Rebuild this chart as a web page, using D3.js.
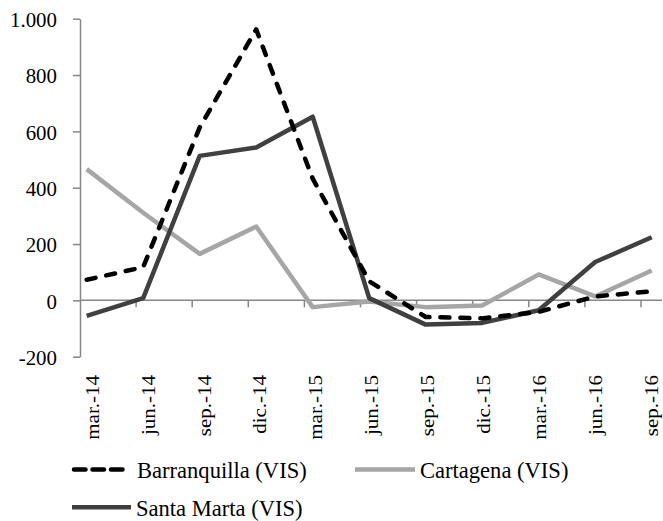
<!DOCTYPE html>
<meta charset="utf-8">
<style>
body{
    margin: 0;
    background: #fff;
}
svg text{
    font-family: "Liberation Serif", "Times New Roman", Times, serif !important;
    fill: #000;
}
.axis path, .axis line{
    stroke: #868686;
    stroke-width: 1.5;
}
.series{
    fill: none;
    stroke-width: 4.5;
    stroke-linejoin: round;
}
</style>
<svg width="663" height="521" font-family="Liberation Serif"></svg>
<script src="https://cdn.jsdelivr.net/npm/d3@7"></script>
<script>

var categories = ['mar.-14','jun.-14','sep.-14','dic.-14','mar.-15','jun.-15','sep.-15','dic.-15','mar.-16','jun.-16','sep.-16'];
var barranquilla = [73, 118, 614, 962, 432, 68, -59, -64, -41, 14, 32];
var cartagena    = [466, 311, 165, 262, -24, -4, -24, -18, 92, 14, 106];
var santaMarta   = [-55, 8, 513, 543, 652, 8, -86, -80, -35, 136, 224];
var yTicks = [-200, 0, 200, 400, 600, 800, 1000];

var series = [
    {name:'Barranquilla (VIS)', values: barranquilla, colour:'#000', dash:'9,11', cap:'round'},
    {name:'Cartagena (VIS)', values: cartagena, colour:'#a6a6a6', dash:null, cap:'butt'},
    {name:'Santa Marta (VIS)', values: santaMarta, colour:'#404040', dash:null, cap:'butt'}
];

var svg = d3.select('svg');

var x = d3.scalePoint()
    .domain(categories)
    .range([86.7, 651.7]);

// category separators sit a little left of the points
var tickX = d3.scaleLinear()
    .domain([0, categories.length - 1])
    .range([80, 641]);

var y = d3.scaleLinear()
    .domain([-200, 1000])
    .range([356.7, 18.7]);

var locale = d3.formatLocale({decimal:',', thousands:'.', grouping:[3], currency:['$',''], minus:'-'});
var fmt = locale.format(',d');

// y axis
var yAxis = svg.append('g')
    .attr('class','axis')
    .attr('transform','translate(80,0)')
    .call(d3.axisLeft(y).tickValues(yTicks).tickSize(7).tickPadding(16).tickFormat(fmt).tickSizeOuter(0));
yAxis.attr('font-family', null).attr('font-size', null);
yAxis.selectAll('text')
    .attr('font-size', 22)
    .attr('dy', '0.36em')
    .each(function(){
        var t = d3.select(this);
        var xx = +t.attr('x');
        t.attr('x', null).attr('transform', 'translate(' + xx + ',0) scale(0.95,1)');
    });

// x axis at zero
var xg = svg.append('g').attr('class','axis');
xg.append('line')
    .attr('x1', 80).attr('x2', 662)
    .attr('y1', y(0)).attr('y2', y(0));
xg.selectAll('line.tick')
    .data(d3.range(1, categories.length))
    .enter()
    .append('line')
    .attr('class','tick')
    .attr('x1', function(d){ return tickX(d); })
    .attr('x2', function(d){ return tickX(d); })
    .attr('y1', y(0))
    .attr('y2', y(0) + 7);

svg.append('g')
    .selectAll('text')
    .data(categories)
    .enter()
    .append('text')
    .attr('font-size', 21)
    .attr('text-anchor', 'end')
    .attr('transform', function(d, i){ return 'translate(' + (x(d) + 12 - i * 0.6) + ',375) scale(0.93,1) rotate(-90)'; })
    .text(function(d){ return d; });

// lines
var line = d3.line()
    .x(function(d, i){ return x(categories[i]); })
    .y(function(d){ return y(d); });

svg.append('g')
    .selectAll('path')
    .data([series[1], series[2], series[0]])
    .enter()
    .append('path')
    .attr('class','series')
    .attr('d', function(d){ return line(d.values); })
    .attr('stroke', function(d){ return d.colour; })
    .attr('stroke-dasharray', function(d){ return d.dash; })
    .attr('stroke-linecap', function(d){ return d.cap; });

// legend
var legendPos = [
    {x:72, y:469.5, w:55, tx:65},
    {x:355, y:469.5, w:60, tx:65},
    {x:72, y:507.3, w:59, tx:64}
];

var legend = svg.append('g')
    .selectAll('g')
    .data(series)
    .enter()
    .append('g')
    .attr('transform', function(d, i){ return 'translate(' + legendPos[i].x + ',' + legendPos[i].y + ')'; });

legend.append('line')
    .attr('x1', function(d){ return d.dash ? 2 : 0; })
    .attr('x2', function(d, i){ return d.dash ? legendPos[i].w - 2 : legendPos[i].w; })
    .attr('stroke', function(d){ return d.colour; })
    .attr('stroke-width', 4.5)
    .attr('stroke-dasharray', function(d){ return d.dash ? '11.5,7' : null; })
    .attr('stroke-linecap', function(d){ return d.dash ? 'round' : 'butt'; });

legend.append('text')
    .attr('font-size', 24)
    .attr('transform', function(d, i){ return 'translate(' + legendPos[i].tx + ',8.5) scale(0.94,1)'; })
    .text(function(d){ return d.name; });

</script>
